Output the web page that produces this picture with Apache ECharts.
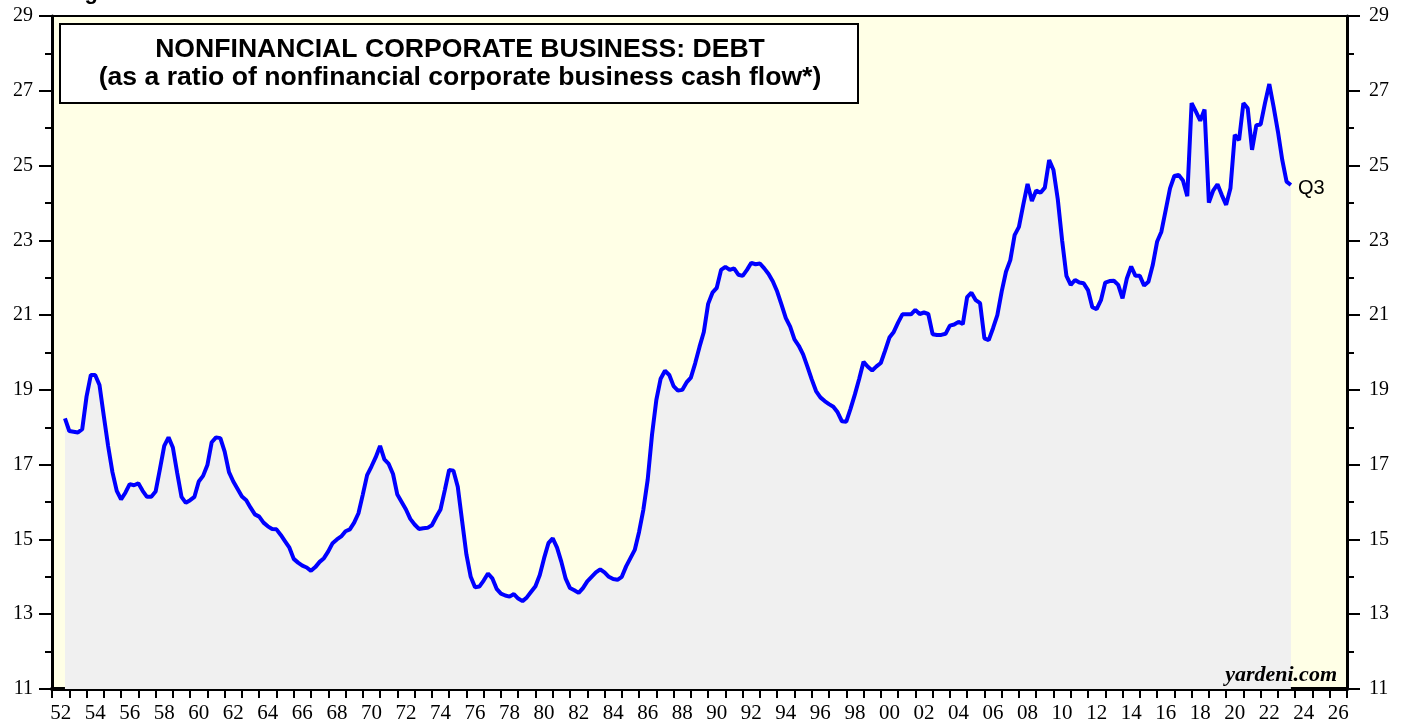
<!DOCTYPE html>
<html><head><meta charset="utf-8">
<script src="https://cdn.jsdelivr.net/npm/echarts@6/dist/echarts.min.js"></script>
<style>html,body{margin:0;padding:0;background:#fff;}#c{width:1407px;height:721px;}</style>
</head><body><div id="c"></div>
<script>
// Data: quarterly ratio, first point 1952 Q3, last 2023 Q3
const firstYear = 1952;
const firstQuarter = 3;
const debtRatio = [
  18.24, 17.90,                 // 1952 Q3-Q4
  17.88, 17.86, 17.95, 18.82,   // 1953
  19.40, 19.40, 19.13, 18.30,   // 1954
  17.50, 16.80, 16.30, 16.07,   // 1955
  16.25, 16.48, 16.45, 16.50,   // 1956
  16.30, 16.14, 16.14, 16.28,   // 1957
  16.88, 17.50, 17.73, 17.46,   // 1958
  16.78, 16.14, 15.98, 16.05,   // 1959
  16.14, 16.55, 16.70, 16.99,   // 1960
  17.60, 17.73, 17.71, 17.35,   // 1961
  16.80, 16.55, 16.35, 16.15,   // 1962
  16.05, 15.85, 15.67, 15.61,   // 1963
  15.45, 15.35, 15.28, 15.27,   // 1964
  15.12, 14.95, 14.78, 14.48,   // 1965
  14.38, 14.30, 14.25, 14.16,   // 1966
  14.26, 14.40, 14.50, 14.68,   // 1967
  14.90, 15.00, 15.08, 15.22,   // 1968
  15.27, 15.45, 15.70, 16.20,   // 1969
  16.72, 16.95, 17.20, 17.50,   // 1970
  17.14, 17.02, 16.75, 16.20,   // 1971
  16.00, 15.80, 15.55, 15.40,   // 1972
  15.28, 15.30, 15.31, 15.38,   // 1973
  15.60, 15.80, 16.32, 16.86,   // 1974
  16.84, 16.41, 15.50, 14.60,   // 1975
  14.00, 13.72, 13.74, 13.90,   // 1976
  14.09, 13.96, 13.68, 13.55,   // 1977
  13.50, 13.47, 13.54, 13.42,   // 1978
  13.35, 13.45, 13.60, 13.75,   // 1979
  14.05, 14.50, 14.90, 15.03,   // 1980
  14.78, 14.40, 13.95, 13.70,   // 1981
  13.64, 13.57, 13.70, 13.88,   // 1982
  14.00, 14.12, 14.20, 14.12,   // 1983
  14.00, 13.94, 13.92, 14.00,   // 1984
  14.28, 14.50, 14.72, 15.20,   // 1985
  15.80, 16.60, 17.80, 18.73,   // 1986
  19.30, 19.51, 19.40, 19.10,   // 1987
  18.98, 19.00, 19.20, 19.33,   // 1988
  19.71, 20.15, 20.55, 21.30,   // 1989
  21.60, 21.73, 22.21, 22.29,   // 1990
  22.21, 22.25, 22.08, 22.05,   // 1991
  22.21, 22.40, 22.36, 22.38,   // 1992
  22.25, 22.10, 21.90, 21.63,   // 1993
  21.28, 20.92, 20.69, 20.35,   // 1994
  20.18, 19.95, 19.62, 19.28,   // 1995
  18.97, 18.80, 18.70, 18.62,   // 1996
  18.55, 18.40, 18.16, 18.15,   // 1997
  18.50, 18.88, 19.30, 19.75,   // 1998
  19.62, 19.52, 19.63, 19.72,   // 1999
  20.05, 20.40, 20.55, 20.80,   // 2000
  21.02, 21.02, 21.02, 21.14,   // 2001
  21.03, 21.07, 21.03, 20.49,   // 2002
  20.47, 20.47, 20.50, 20.72,   // 2003
  20.75, 20.82, 20.76, 21.48,   // 2004
  21.60, 21.40, 21.32, 20.38,   // 2005
  20.33, 20.65, 21.00, 21.63,   // 2006
  22.16, 22.47, 23.14, 23.36,   // 2007
  23.95, 24.51, 24.05, 24.33,   // 2008
  24.27, 24.41, 25.15, 24.88,   // 2009
  24.10, 23.00, 22.05, 21.81,   // 2010
  21.94, 21.87, 21.85, 21.67,   // 2011
  21.21, 21.16, 21.40, 21.87,   // 2012
  21.91, 21.92, 21.81, 21.45,   // 2013
  21.98, 22.30, 22.05, 22.05,   // 2014
  21.79, 21.89, 22.34, 22.96,   // 2015
  23.23, 23.81, 24.39, 24.72,   // 2016
  24.75, 24.60, 24.18, 26.67,   // 2017
  26.44, 26.20, 26.50, 24.01,   // 2018
  24.33, 24.50, 24.21, 23.95,   // 2019
  24.39, 25.82, 25.68, 26.67,   // 2020
  26.53, 25.42, 26.08, 26.10,   // 2021
  26.67, 27.18, 26.57, 25.91,   // 2022
  25.15, 24.57, 24.48           // 2023 Q1-Q3
];
const yRange = { min: 11, max: 29, step: 2 };
const xRange = { min: 1952, max: 2027 };
const titleLines = [
  'NONFINANCIAL CORPORATE BUSINESS: DEBT',
  '(as a ratio of nonfinancial corporate business cash flow*)'
];
const lastLabel = 'Q3';
const figureLabel = 'Figure 8.';
const sourceLabel = 'yardeni.com';

// quarter-end position on the time scale
const seriesData = debtRatio.map((v, i) => [firstYear + (firstQuarter + i) / 4, v]);

const serif = '"Liberation Serif", "Times New Roman", serif';
const sans = '"Liberation Sans", Arial, sans-serif';

const yAxisBase = (pos, margin) => ({
  type: 'value', position: pos, min: yRange.min, max: yRange.max, interval: yRange.step,
  axisLine: { show: true, lineStyle: { color: '#000', width: 3 } },
  axisTick: { show: true, inside: false, length: 13, lineStyle: { color: '#000', width: 2 } },
  minorTick: { show: true, splitNumber: 2, length: 7, lineStyle: { color: '#000', width: 2 } },
  splitLine: { show: false },
  axisLabel: { fontFamily: serif, fontSize: 20, color: '#000', margin: margin }
});

const chart = echarts.init(document.getElementById('c'), null, { renderer: 'canvas' });
chart.setOption({
  animation: false,
  backgroundColor: '#fff',
  grid: { left: 52, right: 60, top: 16, bottom: 32, containLabel: false, outerBoundsMode: 'none',
          show: true, backgroundColor: '#FFFFE6', borderColor: '#000', borderWidth: 2 },
  xAxis: [
    {
      type: 'value', min: xRange.min, max: xRange.max, interval: 1, position: 'bottom',
      axisLine: { show: true, lineStyle: { color: '#000', width: 4 } },
      axisTick: { show: true, length: 9, lineStyle: { color: '#000', width: 2 } },
      axisLabel: { show: false }, splitLine: { show: false }
    },
    {
      type: 'value', min: xRange.min - 0.5, max: xRange.max - 0.5, interval: 0.5, position: 'bottom',
      axisLine: { show: false }, axisTick: { show: false }, splitLine: { show: false },
      axisLabel: {
        show: true, margin: 14, fontFamily: serif, fontSize: 21, color: '#000',
        showMinLabel: true, showMaxLabel: true,
        formatter: v => (Number.isInteger(v) && v % 2 === 0) ? String(v).slice(2) : ''
      }
    }
  ],
  yAxis: [yAxisBase('left', 19), yAxisBase('right', 22)],
  series: [{
    type: 'line', xAxisIndex: 0, yAxisIndex: 0, data: seriesData,
    symbol: 'none', smooth: false,
    lineStyle: { color: '#0000FF', width: 4 },
    areaStyle: { color: '#F0F0F0', opacity: 1, origin: 'start' },
    endLabel: { show: true, formatter: lastLabel, distance: 7, offset: [0, 3], fontFamily: sans, fontSize: 20, color: '#000' },
    z: 2
  }],
  graphic: [
    { type: 'rect', shape: { x: 60, y: 24, width: 798, height: 79 }, style: { fill: '#fff', stroke: '#000', lineWidth: 2 }, z: 10 },
    { type: 'text', z: 11, style: { text: titleLines[0], x: 460, y: 50, font: 'bold 26.6px ' + sans, fill: '#000', align: 'center', textAlign: 'center', verticalAlign: 'middle', textVerticalAlign: 'middle' } },
    { type: 'text', z: 11, style: { text: titleLines[1], x: 460, y: 78, font: 'bold 26.6px ' + sans, fill: '#000', align: 'center', textAlign: 'center', verticalAlign: 'middle', textVerticalAlign: 'middle' } },
    { type: 'text', z: 11, style: { text: figureLabel, x: 65, y: 4, font: 'bold 22px ' + sans, fill: '#000', align: 'left', textAlign: 'left', verticalAlign: 'bottom', textVerticalAlign: 'bottom' } },
    { type: 'text', z: 11, style: { text: sourceLabel, x: 1337, y: 675, font: 'italic bold 22px ' + serif, fill: '#000', align: 'right', textAlign: 'right', verticalAlign: 'middle', textVerticalAlign: 'middle' } }
  ]
});
</script>
</body></html>
